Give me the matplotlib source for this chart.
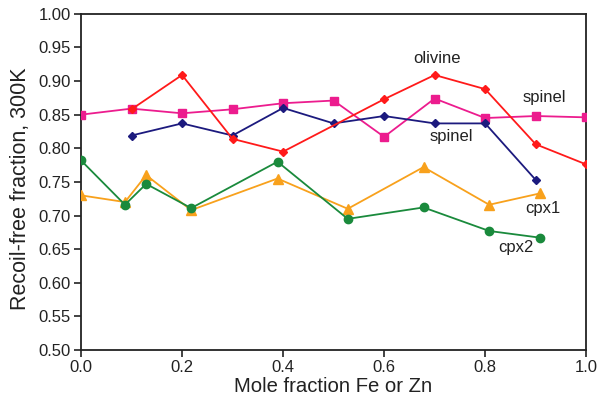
import matplotlib
matplotlib.use("Agg")
import matplotlib.pyplot as plt

plt.rcParams['font.family'] = ['Liberation Sans', 'DejaVu Sans']

# spinel (pink squares)
spinel1_x = [0.0, 0.1, 0.2, 0.3, 0.4, 0.5, 0.6, 0.7, 0.8, 0.9, 1.0]
spinel1_y = [0.850, 0.859, 0.852, 0.858, 0.867, 0.871, 0.817, 0.874, 0.845, 0.848, 0.846]

# olivine (red diamonds)
olivine_x = [0.1, 0.2, 0.3, 0.4, 0.6, 0.7, 0.8, 0.9, 1.0]
olivine_y = [0.858, 0.909, 0.814, 0.795, 0.873, 0.909, 0.888, 0.806, 0.776]

# spinel (navy diamonds)
spinel2_x = [0.1, 0.2, 0.3, 0.4, 0.5, 0.6, 0.7, 0.8, 0.9]
spinel2_y = [0.819, 0.837, 0.819, 0.860, 0.837, 0.848, 0.837, 0.837, 0.753]

# cpx1 (orange triangles)
cpx1_x = [0.0, 0.087, 0.129, 0.218, 0.389, 0.528, 0.678, 0.808, 0.909]
cpx1_y = [0.730, 0.720, 0.760, 0.708, 0.755, 0.710, 0.772, 0.716, 0.733]

# cpx2 (green circles)
cpx2_x = [0.0, 0.087, 0.129, 0.218, 0.389, 0.528, 0.678, 0.808, 0.909]
cpx2_y = [0.782, 0.716, 0.747, 0.711, 0.780, 0.695, 0.712, 0.677, 0.667]

x_ticks = [0.0, 0.2, 0.4, 0.6, 0.8, 1.0]
y_ticks = [0.50, 0.55, 0.60, 0.65, 0.70, 0.75, 0.80, 0.85, 0.90, 0.95, 1.00]

fig = plt.figure(figsize=(6.0, 3.95), dpi=100)
ax = fig.add_axes([0.135, 0.114, 0.842, 0.851])

lw = 1.3
ax.plot(spinel1_x, spinel1_y, color='#ec1c8e', marker='s', markersize=6, lw=lw, zorder=3)
ax.plot(olivine_x, olivine_y, color='#ff1a1a', marker='D', markersize=4.5, lw=lw, zorder=4)
ax.plot(spinel2_x, spinel2_y, color='#1c1a7e', marker='D', markersize=4.5, lw=lw, zorder=3)
ax.plot(cpx1_x, cpx1_y, color='#f8a11c', marker='^', markersize=6.5, lw=lw, zorder=3)
ax.plot(cpx2_x, cpx2_y, color='#1a8a3c', marker='o', markersize=6, lw=lw, zorder=4)

ax.set_xlim(0.0, 1.0)
ax.set_ylim(0.50, 1.00)
ax.set_xticks(x_ticks)
ax.set_xticklabels([f"{t:.1f}" for t in x_ticks])
ax.set_yticks(y_ticks)
ax.set_yticklabels([f"{t:.2f}" for t in y_ticks])
ax.tick_params(direction='out', length=5, width=1.2, labelsize=12, colors='#222222', pad=2.5)
for s in ax.spines.values():
    s.set_linewidth(1.3)
    s.set_color('#222222')

ax.set_xlabel("Mole fraction Fe or Zn", fontsize=14.6, color='#222222', labelpad=1)
ax.set_ylabel("Recoil-free fraction, 300K", fontsize=15.5, color='#222222')
ax.yaxis.set_label_coords(-0.098, 0.479)

tk = dict(fontsize=12, color='#222222', ha='center', va='center')
ax.text(0.705, 0.933, "olivine", **tk)
ax.text(0.917, 0.876, "spinel", **tk)
ax.text(0.733, 0.818, "spinel", **tk)
ax.text(0.915, 0.711, "cpx1", **tk)
ax.text(0.861, 0.652, "cpx2", **tk)

fig.savefig("out.png", dpi=100)
